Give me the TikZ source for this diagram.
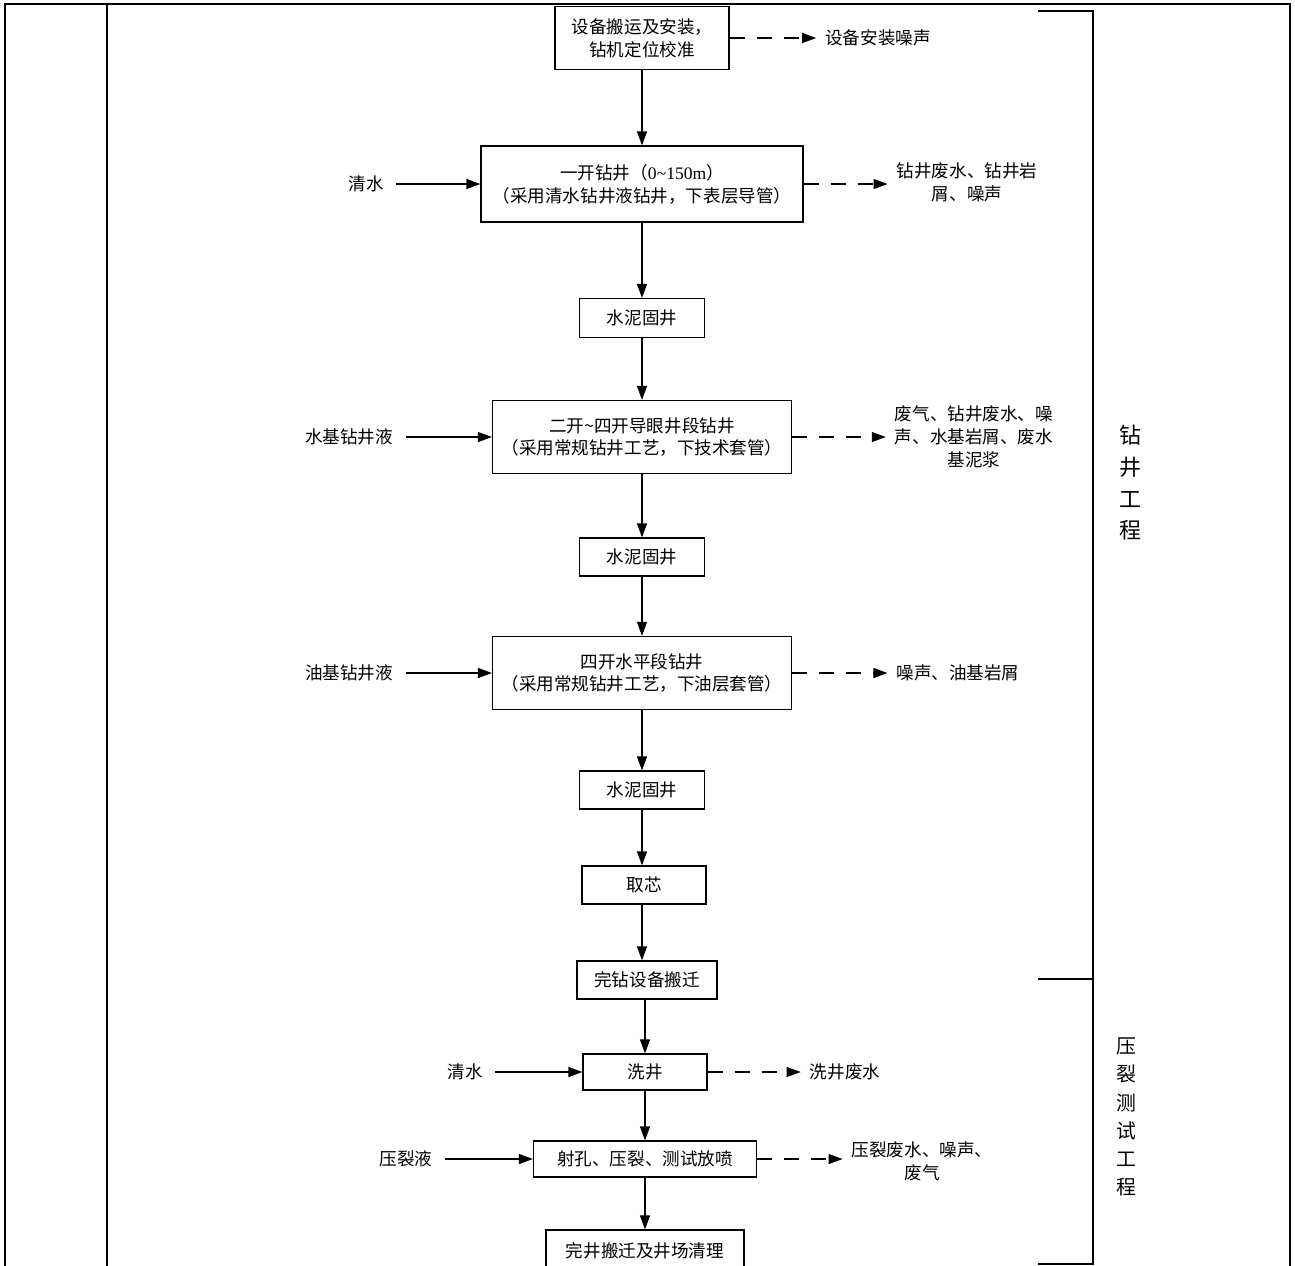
\documentclass[tikz,border=0pt]{standalone}
\usepackage{fontspec}
\setmainfont{Liberation Serif}
\newfontfamily\cjk{Noto Sans CJK SC}
\usetikzlibrary{arrows.meta}

\begin{document}
\begin{tikzpicture}[x=0.02cm,y=-0.02cm,
    >={Triangle[length=0.28cm,width=0.2cm]},
    every node/.style={font=\cjk\fontsize{10}{13}\selectfont, align=center},
    proc/.style={draw, line width=0.7pt, inner sep=0pt},
    feed/.style={inner xsep=7pt},
    waste/.style={inner xsep=5pt},
    dashline/.style={line width=0.7pt, dash pattern=on 0.3cm off 0.24cm}]
\useasboundingbox (0,0) rectangle (1295,1265);

% frame of the table
\draw[line width=1.6pt] (5,1270) -- (5,4) -- (1290,4) -- (1290,1270);
\draw[line width=1pt] (107,4) -- (107,1270);

\begin{scope}[every node/.append style={proc}]
    \node[minimum width=3.48cm, minimum height=1.26cm] (az) at (642,38) {设备搬运及安装，\\钻机定位校准};
    \node[minimum width=6.44cm, minimum height=1.52cm] (yk) at (642,184) {一开钻井（{\rmfamily 0\textasciitilde 150m}）\\（采用清水钻井液钻井，下表层导管）};
    \node[minimum width=2.5cm, minimum height=0.78cm] (gj1) at (642,318) {水泥固井};
    \node[minimum width=5.98cm, minimum height=1.46cm] (ek) at (642,437) {二开\textasciitilde 四开导眼井段钻井\\（采用常规钻井工艺，下技术套管）};
    \node[minimum width=2.5cm, minimum height=0.76cm] (gj2) at (642,557) {水泥固井};
    \node[minimum width=5.98cm, minimum height=1.46cm] (sk) at (642,673) {四开水平段钻井\\（采用常规钻井工艺，下油层套管）};
    \node[minimum width=2.5cm, minimum height=0.76cm] (gj3) at (642,790) {水泥固井};
    \node[minimum width=2.48cm, minimum height=0.76cm] (qx) at (644,885) {取芯};
    \node[minimum width=2.8cm, minimum height=0.76cm] (bq) at (647,980) {完钻设备搬迁};
    \node[minimum width=2.48cm, minimum height=0.72cm] (xj) at (645,1072) {洗井};
    \node[minimum width=4.46cm, minimum height=0.72cm] (sy) at (645,1159) {射孔、压裂、测试放喷};
    \node[minimum width=3.96cm, minimum height=0.84cm] (wj) at (645,1251) {完井搬迁及井场清理};
\end{scope}

    % inputs
    \node[feed] (qs1) at (366,184) {清水};
    \node[feed] (sjy) at (349,437) {水基钻井液};
    \node[feed] (yjy) at (349,673) {油基钻井液};
    \node[feed] (qs2) at (465,1072) {清水};
    \node[feed] (ylj) at (406,1159) {压裂液};

    % wastes
    \node[waste] (o1) at (878,38) {设备安装噪声};
    \node[waste] (o2) at (967,182) {钻井废水、钻井岩\\屑、噪声};
    \node[waste] (o4) at (974,437) {废气、钻井废水、噪\\声、水基岩屑、废水\\基泥浆};
    \node[waste] (o6) at (958,673) {噪声、油基岩屑};
    \node[waste] (o10) at (845,1072) {洗井废水};
    \node[waste] (o11) at (922,1161) {压裂废水、噪声、\\废气};

    \path [->, line width=0.7pt] (az) edge (az |- yk.north) (yk) edge (yk |- gj1.north)
        (gj1) edge (gj1 |- ek.north) (ek) edge (ek |- gj2.north) (gj2) edge (gj2 |- sk.north)
        (sk) edge (sk |- gj3.north) (gj3) edge (gj3 |- qx.north) (gj3 |- qx.south) edge (gj3 |- bq.north)
        (xj |- bq.south) edge (xj.north) (xj) edge (xj |- sy.north) (sy) edge (sy |- wj.north);

    \path [->, line width=0.7pt] (qs1) edge (yk.west |- qs1) (sjy) edge (ek.west |- sjy)
        (yjy) edge (sk.west |- yjy) (qs2) edge (xj.west |- qs2) (ylj) edge (sy.west |- ylj);

    \path [->, dashline] (az) edge (o1.west |- az) (yk) edge (o2.west |- yk) (ek) edge (o4.west |- ek)
        (sk) edge (o6.west |- sk) (xj) edge (o10.west |- xj) (sy) edge (o11.west |- sy);

    % brackets for the two stages
    \draw[line width=0.8pt] (1038,11) -- (1093,11) -- (1093,1264) -- (1038,1264);
    \draw[line width=0.8pt] (1038,979) -- (1093,979);
    \node[font=\cjk\fontsize{12.5}{18}\selectfont] (zj) at (1130,483) {钻\\井\\工\\程};
    \node[font=\cjk\fontsize{11.3}{16}\selectfont] (yl) at (1126,1117) {压\\裂\\测\\试\\工\\程};

\end{tikzpicture}
\end{document}
